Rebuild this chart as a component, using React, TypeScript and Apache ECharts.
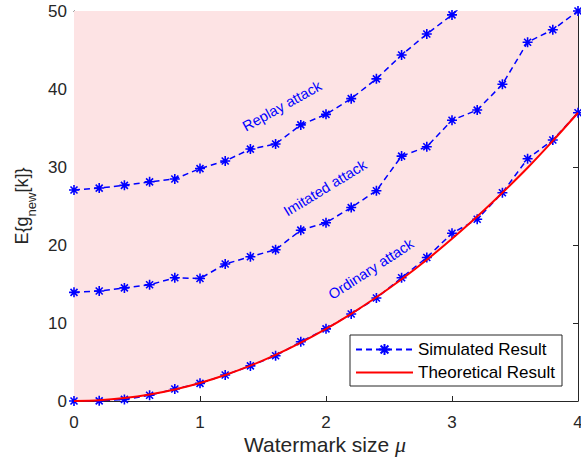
import React, { useEffect, useRef } from "react";
import * as echarts from "echarts";

const mu = [0, 0.2, 0.4, 0.6, 0.8, 1.0, 1.2, 1.4, 1.6, 1.8, 2.0, 2.2, 2.4, 2.6, 2.8, 3.0, 3.2, 3.4, 3.6, 3.8, 4.0];
const replay = [27.05, 27.3, 27.65, 28.1, 28.46, 29.8, 30.77, 32.3, 32.95, 35.4, 36.75, 38.76, 41.3, 44.36, 47.05, 49.5, 52.6];
const imitated = [13.93, 14.1, 14.5, 14.9, 15.8, 15.7, 17.56, 18.5, 19.4, 21.9, 22.86, 24.8, 26.96, 31.4, 32.6, 36.0, 37.3, 40.6, 46.0, 47.6, 50.0];
const ordinary = [0, 0.02, 0.2, 0.73, 1.54, 2.26, 3.33, 4.5, 5.8, 7.6, 9.25, 11.15, 13.2, 15.8, 18.4, 21.5, 23.3, 26.7, 31.06, 33.46, 36.96];
const theory = [0, 0.09, 0.37, 0.83, 1.48, 2.31, 3.33, 4.53, 5.91, 7.48, 9.24, 11.18, 13.3, 15.6, 18.1, 20.8, 23.65, 26.7, 29.9, 33.35, 36.96];
const xTicks = [0, 1, 2, 3, 4];
const yTicks = [0, 10, 20, 30, 40, 50];
const attackLabels = ["Replay attack", "Imitated attack", "Ordinary attack"];
const legendNames = ["Simulated Result", "Theoretical Result"];

const STAR = "path://M0,-10L0,10M-10,0L10,0M-7,-7L7,7M-7,7L7,-7";
const FONT = "Liberation Sans, Arial, sans-serif";
const AXIS = "#262626";

function pairs(ys: number[]) {
  return ys.map((y, i) => [mu[i], y]);
}

function measure(text: string, size: number) {
  const c = document.createElement("canvas").getContext("2d")!;
  c.font = `${size}px "Liberation Sans", Arial, sans-serif`;
  return c.measureText(text).width;
}

export default function App() {
  const ref = useRef<HTMLDivElement>(null);
  useEffect(() => {
    document.body.style.margin = "0";
    const chart = echarts.init(ref.current!, null, { renderer: "svg" });
    const simStyle = (data: number[]) => ({
      type: "line",
      name: legendNames[0],
      data: pairs(data),
      symbol: STAR,
      symbolSize: 10,
      showAllSymbol: true,
      lineStyle: { color: "#0000ff", width: 1.5, type: [6, 4] },
      itemStyle: { color: "#0000ff", borderColor: "#0000ff", borderWidth: 1.6 },
      z: 3,
    });
    const axisCommon = {
      axisLine: { show: true, onZero: false, lineStyle: { color: AXIS } },
      axisTick: { show: true, inside: true, length: 5, lineStyle: { color: AXIS } },
      splitLine: { show: false },
    };
    const mainSize = 18;
    const subSize = 13;
    const t1 = "E{g";
    const t2 = "new";
    const t3 = "[k]}";
    const w1 = measure(t1, mainSize);
    const w2 = measure(t2, subSize);
    const w3 = measure(t3, mainSize);
    const total = w1 + w2 + w3;
    const option: any = {
      animation: false,
      grid: { left: 74, right: 3, top: 11, bottom: 65, outerBoundsMode: "none", containLabel: false },
      xAxis: [
        {
          type: "value", min: 0, max: 4, interval: 1, ...axisCommon,
          axisLabel: { color: AXIS, fontSize: 17, fontFamily: FONT, margin: 13, formatter: (v: number) => (xTicks.includes(v) ? String(v) : "") },
        },
        {
          type: "value", position: "top", min: 0, max: 4, interval: 1, ...axisCommon,
          axisLabel: { show: false },
        },
      ],
      yAxis: [
        {
          type: "value", min: 0, max: 50, interval: 10, ...axisCommon,
          axisLabel: { color: AXIS, fontSize: 17, fontFamily: FONT, margin: 7, formatter: (v: number) => (yTicks.includes(v) ? String(v) : "") },
        },
        {
          type: "value", position: "right", min: 0, max: 50, interval: 10, ...axisCommon,
          axisLabel: { show: false },
        },
      ],
      legend: {
        data: [
          { name: legendNames[0] },
          { name: legendNames[1], itemStyle: { opacity: 0, color: "transparent", borderWidth: 0 } },
        ],
        orient: "vertical",
        left: 350,
        top: 335,
        itemWidth: 57,
        itemHeight: 14,
        itemGap: 6,
        padding: [6, 7, 5, 5],
        borderColor: AXIS,
        borderWidth: 1,
        borderRadius: 0,
        backgroundColor: "#ffffff",
        textStyle: { color: "#000", fontSize: 17, fontFamily: FONT },
      },
      series: [
        {
          type: "line",
          name: "fill",
          data: pairs(theory),
          smooth: 0.3,
          symbol: "none",
          lineStyle: { width: 0, opacity: 0 },
          areaStyle: { color: "#fde3e4", origin: "end", opacity: 1 },
          silent: true,
          z: 1,
        },
        simStyle(replay),
        simStyle(imitated),
        simStyle(ordinary),
        {
          type: "line",
          name: legendNames[1],
          data: pairs(theory),
          smooth: 0.3,
          symbol: "none",
          lineStyle: { color: "#ff0000", width: 2 },
          itemStyle: { color: "#ff0000" },
          z: 4,
        },
      ],
      graphic: [
        {
          type: "text", x: 282, y: 106, rotation: (29 * Math.PI) / 180,
          style: { text: attackLabels[0], fill: "#0000ff", font: `14.5px ${FONT}`, textAlign: "center", textVerticalAlign: "middle" },
          z: 10,
        },
        {
          type: "text", x: 325, y: 188, rotation: (31.5 * Math.PI) / 180,
          style: { text: attackLabels[1], fill: "#0000ff", font: `14.5px ${FONT}`, textAlign: "center", textVerticalAlign: "middle" },
          z: 10,
        },
        {
          type: "text", x: 371, y: 269, rotation: (33 * Math.PI) / 180,
          style: { text: attackLabels[2], fill: "#0000ff", font: `14.5px ${FONT}`, textAlign: "center", textVerticalAlign: "middle" },
          z: 10,
        },
        {
          type: "text", x: 325, y: 444,
          style: {
            text: "{a|Watermark size }{m|μ}",
            textAlign: "center", textVerticalAlign: "middle",
            rich: {
              a: { fontSize: 21, fontFamily: FONT, fill: AXIS },
              m: { fontSize: 22, fontFamily: "Liberation Serif, serif", fontStyle: "italic", fill: AXIS },
            },
          },
        },
        {
          type: "group", x: 22, y: 206 + total / 2, rotation: Math.PI / 2,
          children: [
            { type: "text", x: 0, y: 0, style: { text: t1, fill: AXIS, font: `${mainSize}px ${FONT}`, textAlign: "left", textVerticalAlign: "middle" } },
            { type: "text", x: w1, y: 9, style: { text: t2, fill: AXIS, font: `${subSize}px ${FONT}`, textAlign: "left", textVerticalAlign: "middle" } },
            { type: "text", x: w1 + w2, y: 0, style: { text: t3, fill: AXIS, font: `${mainSize}px ${FONT}`, textAlign: "left", textVerticalAlign: "middle" } },
          ],
        },
      ],
    };
    chart.setOption(option);
    return () => chart.dispose();
  }, []);
  return <div ref={ref} style={{ width: 581, height: 466 }} />;
}
